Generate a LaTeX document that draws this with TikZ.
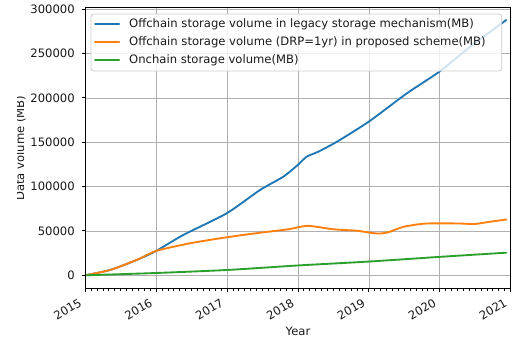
\documentclass[tikz,border=0pt]{standalone}
\usepackage{fontspec}
\setmainfont{DejaVu Sans}
\usetikzlibrary{arrows.meta,positioning}

\definecolor{tabblue}{HTML}{1F77B4}
\definecolor{taborange}{HTML}{FF7F0E}
\definecolor{tabgreen}{HTML}{2CA02C}
\definecolor{gridgray}{HTML}{B0B0B0}
\definecolor{legedge}{HTML}{CCCCCC}

\begin{document}
\begin{tikzpicture}[x=53.175pt, y=0.665pt,
    every node/.style={font=\fontsize{8.7}{10}\selectfont, inner sep=0pt, text=black!90},
    gridline/.style={draw=gridgray, line width=0.6pt},
    spine/.style={draw=black, line width=0.75pt},
    series/.style={line width=1.4pt, line join=round, line cap=round}]
    \useasboundingbox (-63.975pt,-50.025pt) rectangle (321.525pt,206.475pt);

    % grid
    \foreach \t in {1,...,5}
        \draw[gridline] (\t,-14.9) -- (\t,301.5);
    \foreach \v in {0,50,...,300}
        \draw[gridline] (0,\v) -- (6,\v);

    % data
    \draw[series, tabblue] plot[smooth, tension=0.4] coordinates {(0,0) (0.35,6) (0.725,17.3) (1,27.5)
        (1.382,45.5) (1.994,69.9) (2.464,96.2) (2.793,111.2) (2.996,124.4) (3.123,133.8) (3.286,139.4)
        (3.550,150.7) (3.997,173.2) (4.537,205.3) (4.993,229.6) (5.430,257.8) (5.938,288.0)};
    \draw[series, taborange] plot[smooth, tension=0.4] coordinates {(0,0) (0.35,6) (0.725,17.3) (1,27.5)
        (1.477,36.1) (1.994,42.9) (2.464,48.0) (2.863,51.9) (3.140,55.8) (3.498,51.9) (3.828,50.3)
        (4.02,48.0) (4.142,47.1) (4.27,48.5) (4.488,54.7) (4.77,58.2) (5.017,58.6) (5.285,58.4)
        (5.496,57.9) (5.708,60.4) (5.938,62.9)};
    \draw[series, tabgreen] plot[smooth, tension=0.4] coordinates {(0,0) (1,2.6) (2,6.0) (3,11.1)
        (4,15.5) (5,20.8) (5.938,25.5)};

    % legend
    \draw[draw=legedge, fill=white, fill opacity=0.8, rounded corners=2pt, line width=0.6pt]
        (0.080,230.4) rectangle (5.873,294.7);
    \draw[series, tabblue] (0.137,283.4) -- (0.479,283.4);
    \node[anchor=west] (legacy) at (0.616,283.4) {Offchain storage volume in legacy storage mechanism(MB)};
    \draw[series, taborange] (0.137,262.9) -- (0.479,262.9);
    \node[anchor=west] (proposed) at (0.616,262.9) {Offchain storage volume (DRP=1yr) in proposed scheme(MB)};
    \draw[series, tabgreen] (0.137,242.5) -- (0.479,242.5);
    \node[anchor=west] (onchain) at (0.616,242.5) {Onchain storage volume(MB)};

    % axes
    \draw[spine] (0,-14.9) rectangle (6,301.5);
    \foreach \v/\lab in {0/0,50/50000,100/100000,150/150000,200/200000,250/250000,300/300000} {
        \draw[spine] (0,\v) -- ++(-2.6pt,0);
        \node[anchor=east] at ([xshift=-7.7pt]0,\v) {\lab};
    }
    \foreach \m in {0,...,72}
        \draw[spine] (\m/12,-14.9) -- ++(0,-1.5pt);
    \foreach \t/\yr in {0/2015,1/2016,2/2017,3/2018,4/2019,5/2020,6/2021} {
        \draw[spine] (\t,-14.9) -- ++(0,-2.6pt);
        \node[rotate=30, anchor=north east] at ([xshift=-5.3pt,yshift=-6.9pt]\t,-14.9) {\yr};
    }

    \node (xlab) at (3,-63) {Year};
    \begin{scope}
        \clip ([xshift=-50.9pt]0,-14.9) rectangle (0,301.5);
        \node[rotate=90, anchor=south] (ylab) at ([xshift=-44.5pt]0,143.3) {Data volume (MB)};
    \end{scope}
\end{tikzpicture}
\end{document}
